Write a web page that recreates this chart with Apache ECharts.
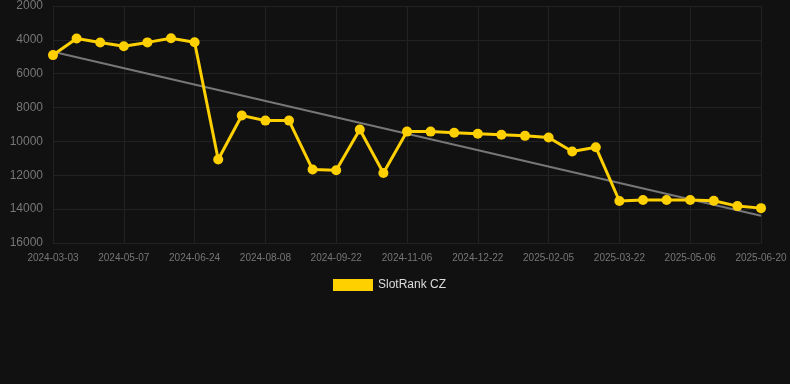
<!DOCTYPE html>
<html>
<head>
<meta charset="utf-8">
<script src="https://cdn.jsdelivr.net/npm/echarts@6/dist/echarts.min.js"></script>
<style>
  html, body { margin: 0; padding: 0; background: #111111; }
  #chart { width: 790px; height: 384px; }
</style>
</head>
<body>
<div id="chart"></div>
<script>
const dates = [
  '2024-03-03', '2024-03-25', '2024-04-15', '2024-05-07', '2024-05-23', '2024-06-08',
  '2024-06-24', '2024-07-09', '2024-07-24', '2024-08-08', '2024-08-23', '2024-09-07',
  '2024-09-22', '2024-10-07', '2024-10-22', '2024-11-06', '2024-11-21', '2024-12-06',
  '2024-12-22', '2025-01-06', '2025-01-21', '2025-02-05', '2025-02-20', '2025-03-07',
  '2025-03-22', '2025-04-06', '2025-04-21', '2025-05-06', '2025-05-21', '2025-06-05',
  '2025-06-20'
];

const ranks = [
  4900, 3920, 4160, 4380, 4150, 3910,
  4140, 11070, 8470, 8770, 8770, 11660,
  11700, 9300, 11870, 9420, 9420, 9490,
  9550, 9610, 9670, 9770, 10600, 10340,
  13520, 13460, 13460, 13460, 13500, 13820,
  13940
];

// trend line end points
const trendPoints = [['2024-03-03', 4700], ['2025-06-20', 14390]];

const COLORS = {
  BG: '#111111',
  FG: '#777777',
  SPLIT: '#222222',
  LINE: '#FFD000',
  TREND: '#777777',
  LEGEND_TEXT: '#dddddd',
};

const chart = echarts.init(document.getElementById('chart'));

const option = {
  backgroundColor: COLORS.BG,
  animation: false,
  grid: {
    left: 53,
    right: 29,
    top: 6,
    bottom: 141,
  },
  legend: {
    data: ['SlotRank CZ'],
    top: 274,
    left: 328,
    itemWidth: 40,
    itemHeight: 12,
    icon: 'rect',
    textStyle: { color: COLORS.LEGEND_TEXT, fontSize: 12, fontFamily: 'Arial, Liberation Sans, sans-serif' },
  },
  xAxis: {
    type: 'category',
    data: dates,
    boundaryGap: false,
    axisLine: { lineStyle: { color: COLORS.SPLIT } },
    axisTick: { show: false },
    axisLabel: {
      color: COLORS.FG,
      fontSize: 10,
      interval: 2,
      margin: 10,
      fontFamily: 'Arial, Liberation Sans, sans-serif',
    },
    splitLine: { show: true, interval: 2, lineStyle: { color: COLORS.SPLIT } },
  },
  yAxis: {
    type: 'value',
    inverse: true,
    min: 2000,
    max: 16000,
    interval: 2000,
    axisLine: { show: false },
    axisTick: { show: false },
    axisLabel: {
      color: COLORS.FG,
      fontSize: 12,
      margin: 10,
      formatter: (v) => String(v),
      fontFamily: 'Arial, Liberation Sans, sans-serif',
    },
    splitLine: { lineStyle: { color: COLORS.SPLIT } },
  },
  series: [
    {
      name: 'Trend',
      type: 'line',
      data: trendPoints,
      symbol: 'none',
      lineStyle: { color: COLORS.TREND, width: 2 },
      z: 1,
    },
    {
      name: 'SlotRank CZ',
      type: 'line',
      data: ranks,
      symbol: 'circle',
      symbolSize: 10,
      itemStyle: { color: COLORS.LINE },
      lineStyle: { color: COLORS.LINE, width: 3 },
      z: 2,
    },
  ],
};

chart.setOption(option);
</script>
</body>
</html>
